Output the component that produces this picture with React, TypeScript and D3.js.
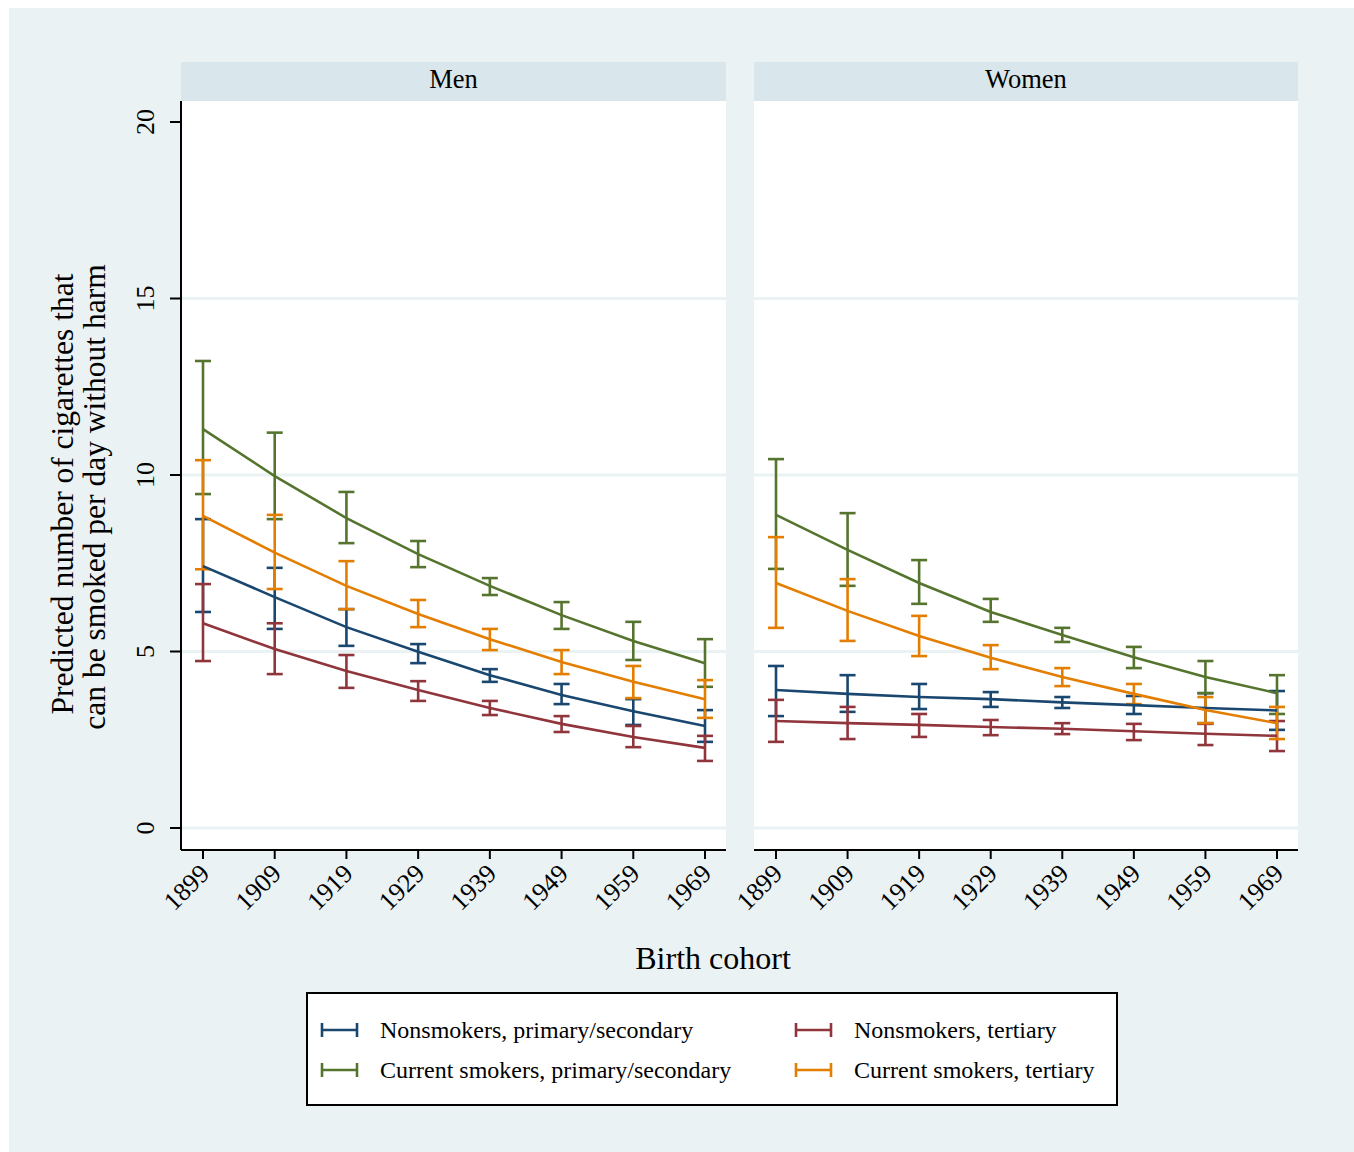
import React from 'react'
import * as d3 from 'd3'

// birth cohorts on the x axis
const cohorts = [1899, 1909, 1919, 1929, 1939, 1949, 1959, 1969]
const yTicks = [0, 5, 10, 15, 20]
const gridTicks = [0, 5, 10, 15]
const panels = ['Men', 'Women']

const seriesLabels = [
  'Nonsmokers, primary/secondary',
  'Current smokers, primary/secondary',
  'Nonsmokers, tertiary',
  'Current smokers, tertiary',
]
const seriesColors = ['#1a476f', '#55752f', '#90353b', '#e37e00']

// Men
const menNonPrim = [7.42, 6.54, 5.69, 4.99, 4.33, 3.77, 3.31, 2.89]
const menNonPrimLo = [6.12, 5.64, 5.16, 4.67, 4.14, 3.51, 2.92, 2.44]
const menNonPrimHi = [8.75, 7.37, 6.2, 5.21, 4.5, 4.08, 3.65, 3.34]
const menCurPrim = [11.3, 9.97, 8.78, 7.76, 6.86, 6.03, 5.3, 4.67]
const menCurPrimLo = [9.46, 8.75, 8.07, 7.39, 6.6, 5.64, 4.76, 4.0]
const menCurPrimHi = [13.23, 11.2, 9.52, 8.13, 7.08, 6.4, 5.84, 5.35]
const menNonTert = [5.8, 5.07, 4.45, 3.91, 3.4, 2.95, 2.58, 2.27]
const menNonTertLo = [4.73, 4.36, 3.97, 3.6, 3.2, 2.72, 2.29, 1.9]
const menNonTertHi = [6.91, 5.8, 4.9, 4.16, 3.6, 3.17, 2.89, 2.61]
const menCurTert = [8.84, 7.8, 6.86, 6.06, 5.35, 4.7, 4.14, 3.65]
const menCurTertLo = [7.33, 6.77, 6.2, 5.69, 5.04, 4.36, 3.68, 3.12]
const menCurTertHi = [10.42, 8.87, 7.56, 6.46, 5.64, 5.04, 4.59, 4.19]

// Women
const womenNonPrim = [3.91, 3.8, 3.71, 3.65, 3.56, 3.48, 3.4, 3.33]
const womenNonPrimLo = [3.17, 3.29, 3.37, 3.43, 3.4, 3.23, 2.97, 2.78]
const womenNonPrimHi = [4.59, 4.33, 4.08, 3.85, 3.71, 3.74, 3.82, 3.88]
const womenCurPrim = [8.87, 7.88, 6.94, 6.12, 5.47, 4.84, 4.28, 3.82]
const womenCurPrimLo = [7.34, 6.86, 6.35, 5.84, 5.27, 4.53, 3.82, 3.23]
const womenCurPrimHi = [10.45, 8.92, 7.59, 6.49, 5.67, 5.13, 4.73, 4.33]
const womenNonTert = [3.03, 2.97, 2.92, 2.86, 2.81, 2.74, 2.67, 2.61]
const womenNonTertLo = [2.44, 2.52, 2.58, 2.63, 2.66, 2.49, 2.35, 2.18]
const womenNonTertHi = [3.63, 3.43, 3.23, 3.06, 2.97, 2.95, 2.95, 3.03]
const womenCurTert = [6.94, 6.15, 5.44, 4.82, 4.28, 3.8, 3.34, 2.97]
const womenCurTertLo = [5.67, 5.3, 4.87, 4.5, 4.02, 3.51, 2.97, 2.52]
const womenCurTertHi = [8.24, 7.05, 6.01, 5.18, 4.53, 4.08, 3.71, 3.43]

const panelSeries = [
  [
    [menNonPrim, menNonPrimLo, menNonPrimHi],
    [menCurPrim, menCurPrimLo, menCurPrimHi],
    [menNonTert, menNonTertLo, menNonTertHi],
    [menCurTert, menCurTertLo, menCurTertHi],
  ],
  [
    [womenNonPrim, womenNonPrimLo, womenNonPrimHi],
    [womenCurPrim, womenCurPrimLo, womenCurPrimHi],
    [womenNonTert, womenNonTertLo, womenNonTertHi],
    [womenCurTert, womenCurTertLo, womenCurTertHi],
  ],
]

const font = '"Liberation Serif", "Times New Roman", serif'
const bg = '#eaf2f3'
const stripBg = '#d9e6eb'

const App = () => {
  const W = 1354
  const H = 1152
  const plotTop = 101
  const plotBottom = 850
  const panelX = [[181, 726], [754, 1298]]

  const y = d3.scaleLinear().domain([0, 20]).range([828, 122])
  const capW = 8

  // svg sits at the page origin so coordinates below are page pixels
  return (
    <svg width={W} height={H} style={{ position: 'absolute', left: 0, top: 0, display: 'block' }}>
      <rect x={0} y={0} width={W} height={H} fill="#fff" />
      <rect x={9} y={8} width={W - 9} height={H - 8} fill={bg} />

      {panels.map((name, p) => {
        const [x0, x1] = panelX[p]
        const x = d3.scaleLinear().domain([1899, 1969]).range([x0 + 22, x1 - 21])
        const line = d3.line<number>().x((d, i) => x(cohorts[i])).y(d => y(d))
        return (
          <g key={name}>
            <rect x={x0} y={62} width={x1 - x0} height={39} fill={stripBg} />
            <text x={(x0 + x1) / 2} y={88} textAnchor="middle" fontFamily={font} fontSize={26.5}>{name}</text>
            <rect x={x0} y={plotTop} width={x1 - x0} height={plotBottom - plotTop} fill="#fff" />
            {gridTicks.map(t => (
              <line key={t} x1={x0} x2={x1} y1={y(t)} y2={y(t)} stroke={bg} strokeWidth={3} />
            ))}
            {panelSeries[p].map(([est, lo, hi], s) => (
              <g key={s} stroke={seriesColors[s]} strokeWidth={2.6} fill="none">
                {cohorts.map((c, i) => (
                  <g key={c}>
                    <line x1={x(c)} x2={x(c)} y1={y(lo[i])} y2={y(hi[i])} />
                    <line x1={x(c) - capW} x2={x(c) + capW} y1={y(lo[i])} y2={y(lo[i])} />
                    <line x1={x(c) - capW} x2={x(c) + capW} y1={y(hi[i])} y2={y(hi[i])} />
                  </g>
                ))}
              </g>
            ))}
            {panelSeries[p].map(([est], s) => (
              <path key={s} d={line(est) || ''} stroke={seriesColors[s]} strokeWidth={2.6} fill="none" />
            ))}
            <line x1={x0} x2={x1} y1={plotBottom} y2={plotBottom} stroke="#000" strokeWidth={2} />
            {cohorts.map(c => (
              <g key={c}>
                <line x1={x(c)} x2={x(c)} y1={plotBottom} y2={plotBottom + 9} stroke="#000" strokeWidth={2} />
                <text
                  transform={`translate(${x(c) + 8},${plotBottom + 25}) rotate(-45)`}
                  textAnchor="end"
                  fontFamily={font}
                  fontSize={26}
                >{c}</text>
              </g>
            ))}
          </g>
        )
      })}

      {/* y axis */}
      <line x1={181} x2={181} y1={plotTop} y2={plotBottom} stroke="#000" strokeWidth={2} />
      {yTicks.map(t => (
        <g key={t}>
          <line x1={170} x2={181} y1={y(t)} y2={y(t)} stroke="#000" strokeWidth={2} />
          <text transform={`translate(154,${y(t)}) rotate(-90)`} textAnchor="middle" fontFamily={font} fontSize={26}>{t}</text>
        </g>
      ))}
      <text transform="translate(73,494) rotate(-90)" textAnchor="middle" fontFamily={font} fontSize={31.5}>Predicted number of cigarettes that</text>
      <text transform="translate(105,497) rotate(-90)" textAnchor="middle" fontFamily={font} fontSize={31.5}>can be smoked per day without harm</text>

      <text x={713} y={969} textAnchor="middle" fontFamily={font} fontSize={32}>Birth cohort</text>

      {/* legend */}
      <rect x={307} y={993} width={810} height={112} fill="#fff" stroke="#000" strokeWidth={2} />
      {seriesLabels.map((label, s) => {
        const col = Math.floor(s / 2)
        const row = s % 2
        const lx = col === 0 ? 322 : 796
        const ly = row === 0 ? 1030 : 1070
        return (
          <g key={label}>
            <g stroke={seriesColors[s]} strokeWidth={2.6}>
              <line x1={lx} x2={lx + 35} y1={ly} y2={ly} />
              <line x1={lx} x2={lx} y1={ly - 7} y2={ly + 7} />
              <line x1={lx + 35} x2={lx + 35} y1={ly - 7} y2={ly + 7} />
            </g>
            <text x={lx + 58} y={ly + 8} fontFamily={font} fontSize={24}>{label}</text>
          </g>
        )
      })}
    </svg>
  )
}

export default App
